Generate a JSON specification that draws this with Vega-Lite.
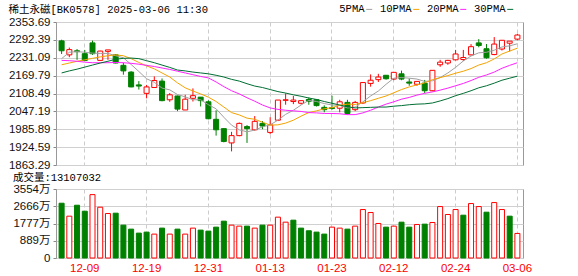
{
  "$schema": "https://vega.github.io/schema/vega-lite/v6.json",
  "padding": {"left": 7, "top": 4, "right": 40, "bottom": 2},
  "background": "white",
  "spacing": 1,
  "config": {
    "font": "Liberation Sans",
    "view": {"stroke": "#999999", "strokeWidth": 1},
    "line": {"strokeWidth": 1},
    "axis": {"labelFont": "Liberation Sans, Noto Sans CJK SC", "labelFontSize": 11.5, "labelColor": "#111111", "titleFontSize": 11, "labelOverlap": false}
  },
  "data": {"values": [
    {"d":"2024-12-04","o":2289,"h":2293,"l":2244,"c":2255,"v":2821,"up":false,"5PMA":2228,"10PMA":2207,"20PMA":2222,"30PMA":2179},
    {"d":"2024-12-05","o":2241,"h":2266,"l":2233,"c":2259,"v":2154,"up":true,"5PMA":2250,"10PMA":2213,"20PMA":2221,"30PMA":2186},
    {"d":"2024-12-06","o":2255,"h":2261,"l":2224,"c":2252,"v":2718,"up":false,"5PMA":2252,"10PMA":2219,"20PMA":2219,"30PMA":2192},
    {"d":"2024-12-09","o":2245,"h":2258,"l":2219,"c":2222,"v":2410,"up":false,"5PMA":2250,"10PMA":2224,"20PMA":2216,"30PMA":2199},
    {"d":"2024-12-10","o":2282,"h":2290,"l":2241,"c":2245,"v":3265,"up":true,"5PMA":2247,"10PMA":2229,"20PMA":2214,"30PMA":2206},
    {"d":"2024-12-11","o":2222,"h":2255,"l":2221,"c":2254,"v":2616,"up":true,"5PMA":2246,"10PMA":2234,"20PMA":2214,"30PMA":2213},
    {"d":"2024-12-12","o":2253,"h":2258,"l":2224,"c":2258,"v":2291,"up":true,"5PMA":2246,"10PMA":2238,"20PMA":2214,"30PMA":2219},
    {"d":"2024-12-13","o":2241,"h":2244,"l":2212,"c":2213,"v":2308,"up":false,"5PMA":2238,"10PMA":2241,"20PMA":2215,"30PMA":2226},
    {"d":"2024-12-16","o":2205,"h":2214,"l":2173,"c":2186,"v":1692,"up":false,"5PMA":2231,"10PMA":2238,"20PMA":2214,"30PMA":2229},
    {"d":"2024-12-17","o":2182,"h":2185,"l":2130,"c":2131,"v":1487,"up":false,"5PMA":2208,"10PMA":2228,"20PMA":2212,"30PMA":2230},
    {"d":"2024-12-18","o":2138,"h":2151,"l":2122,"c":2134,"v":1282,"up":false,"5PMA":2184,"10PMA":2215,"20PMA":2209,"30PMA":2228},
    {"d":"2024-12-19","o":2109,"h":2138,"l":2092,"c":2131,"v":1333,"up":false,"5PMA":2159,"10PMA":2203,"20PMA":2205,"30PMA":2221},
    {"d":"2024-12-20","o":2129,"h":2167,"l":2129,"c":2153,"v":1231,"up":true,"5PMA":2147,"10PMA":2193,"20PMA":2201,"30PMA":2214},
    {"d":"2024-12-23","o":2151,"h":2160,"l":2082,"c":2084,"v":1539,"up":false,"5PMA":2127,"10PMA":2179,"20PMA":2196,"30PMA":2206},
    {"d":"2024-12-24","o":2087,"h":2110,"l":2080,"c":2104,"v":1231,"up":true,"5PMA":2121,"10PMA":2165,"20PMA":2191,"30PMA":2198},
    {"d":"2024-12-25","o":2100,"h":2101,"l":2048,"c":2055,"v":1487,"up":false,"5PMA":2105,"10PMA":2145,"20PMA":2185,"30PMA":2189},
    {"d":"2024-12-26","o":2052,"h":2104,"l":2052,"c":2089,"v":1231,"up":true,"5PMA":2097,"10PMA":2128,"20PMA":2179,"30PMA":2186},
    {"d":"2024-12-27","o":2092,"h":2126,"l":2081,"c":2101,"v":1539,"up":true,"5PMA":2087,"10PMA":2117,"20PMA":2173,"30PMA":2182},
    {"d":"2024-12-30","o":2096,"h":2096,"l":2064,"c":2084,"v":1436,"up":false,"5PMA":2087,"10PMA":2107,"20PMA":2167,"30PMA":2179},
    {"d":"2024-12-31","o":2080,"h":2085,"l":2020,"c":2022,"v":1385,"up":false,"5PMA":2070,"10PMA":2096,"20PMA":2162,"30PMA":2176},
    {"d":"2025-01-02","o":2020,"h":2051,"l":1964,"c":1984,"v":1590,"up":false,"5PMA":2056,"10PMA":2081,"20PMA":2148,"30PMA":2171},
    {"d":"2025-01-03","o":1988,"h":1988,"l":1941,"c":1944,"v":1897,"up":false,"5PMA":2027,"10PMA":2062,"20PMA":2132,"30PMA":2165},
    {"d":"2025-01-06","o":1939,"h":1977,"l":1910,"c":1964,"v":1692,"up":true,"5PMA":2000,"10PMA":2043,"20PMA":2118,"30PMA":2157},
    {"d":"2025-01-07","o":1964,"h":2009,"l":1962,"c":2006,"v":1641,"up":true,"5PMA":1984,"10PMA":2035,"20PMA":2107,"30PMA":2151},
    {"d":"2025-01-08","o":1995,"h":2000,"l":1939,"c":1988,"v":1641,"up":false,"5PMA":1977,"10PMA":2024,"20PMA":2094,"30PMA":2142},
    {"d":"2025-01-09","o":1984,"h":2031,"l":1981,"c":2013,"v":1539,"up":true,"5PMA":1983,"10PMA":2020,"20PMA":2082,"30PMA":2134},
    {"d":"2025-01-10","o":2006,"h":2014,"l":1986,"c":1997,"v":1692,"up":false,"5PMA":1994,"10PMA":2010,"20PMA":2069,"30PMA":2129},
    {"d":"2025-01-13","o":1975,"h":2027,"l":1969,"c":2001,"v":1692,"up":true,"5PMA":2001,"10PMA":2000,"20PMA":2059,"30PMA":2122},
    {"d":"2025-01-14","o":2017,"h":2086,"l":2014,"c":2086,"v":2103,"up":true,"5PMA":2017,"10PMA":2001,"20PMA":2054,"30PMA":2115},
    {"d":"2025-01-15","o":2085,"h":2109,"l":2070,"c":2087,"v":1846,"up":true,"5PMA":2037,"10PMA":2007,"20PMA":2051,"30PMA":2110},
    {"d":"2025-01-16","o":2081,"h":2100,"l":2072,"c":2086,"v":1949,"up":false,"5PMA":2051,"10PMA":2017,"20PMA":2049,"30PMA":2104},
    {"d":"2025-01-17","o":2075,"h":2084,"l":2071,"c":2084,"v":1539,"up":false,"5PMA":2069,"10PMA":2031,"20PMA":2047,"30PMA":2099},
    {"d":"2025-01-20","o":2088,"h":2095,"l":2070,"c":2082,"v":1402,"up":false,"5PMA":2085,"10PMA":2043,"20PMA":2043,"30PMA":2093},
    {"d":"2025-01-21","o":2087,"h":2089,"l":2064,"c":2067,"v":1333,"up":false,"5PMA":2081,"10PMA":2049,"20PMA":2042,"30PMA":2088},
    {"d":"2025-01-22","o":2061,"h":2068,"l":2044,"c":2053,"v":1231,"up":false,"5PMA":2074,"10PMA":2056,"20PMA":2040,"30PMA":2081},
    {"d":"2025-01-23","o":2060,"h":2101,"l":2053,"c":2057,"v":1590,"up":true,"5PMA":2069,"10PMA":2060,"20PMA":2040,"30PMA":2075},
    {"d":"2025-01-24","o":2058,"h":2087,"l":2044,"c":2080,"v":1539,"up":true,"5PMA":2068,"10PMA":2068,"20PMA":2039,"30PMA":2069},
    {"d":"2025-01-27","o":2078,"h":2087,"l":2036,"c":2040,"v":1487,"up":false,"5PMA":2059,"10PMA":2072,"20PMA":2036,"30PMA":2063},
    {"d":"2025-02-05","o":2053,"h":2083,"l":2048,"c":2078,"v":1641,"up":true,"5PMA":2062,"10PMA":2071,"20PMA":2036,"30PMA":2059},
    {"d":"2025-02-06","o":2076,"h":2146,"l":2073,"c":2146,"v":2496,"up":true,"5PMA":2080,"10PMA":2077,"20PMA":2042,"30PMA":2060},
    {"d":"2025-02-07","o":2143,"h":2174,"l":2132,"c":2154,"v":2342,"up":true,"5PMA":2100,"10PMA":2084,"20PMA":2051,"30PMA":2061},
    {"d":"2025-02-10","o":2156,"h":2176,"l":2148,"c":2165,"v":1778,"up":true,"5PMA":2117,"10PMA":2092,"20PMA":2062,"30PMA":2062},
    {"d":"2025-02-11","o":2171,"h":2171,"l":2156,"c":2159,"v":1590,"up":false,"5PMA":2140,"10PMA":2100,"20PMA":2072,"30PMA":2062},
    {"d":"2025-02-12","o":2158,"h":2181,"l":2154,"c":2181,"v":1641,"up":true,"5PMA":2161,"10PMA":2111,"20PMA":2080,"30PMA":2065},
    {"d":"2025-02-13","o":2176,"h":2187,"l":2154,"c":2158,"v":1846,"up":false,"5PMA":2163,"10PMA":2122,"20PMA":2089,"30PMA":2067},
    {"d":"2025-02-14","o":2148,"h":2160,"l":2135,"c":2144,"v":1590,"up":false,"5PMA":2161,"10PMA":2131,"20PMA":2095,"30PMA":2070},
    {"d":"2025-02-17","o":2140,"h":2150,"l":2135,"c":2150,"v":1727,"up":true,"5PMA":2158,"10PMA":2138,"20PMA":2103,"30PMA":2072},
    {"d":"2025-02-18","o":2144,"h":2155,"l":2110,"c":2118,"v":1744,"up":false,"5PMA":2150,"10PMA":2145,"20PMA":2109,"30PMA":2073},
    {"d":"2025-02-19","o":2118,"h":2188,"l":2116,"c":2188,"v":1829,"up":true,"5PMA":2152,"10PMA":2156,"20PMA":2114,"30PMA":2076},
    {"d":"2025-02-20","o":2207,"h":2224,"l":2200,"c":2216,"v":2650,"up":true,"5PMA":2163,"10PMA":2163,"20PMA":2120,"30PMA":2083},
    {"d":"2025-02-21","o":2213,"h":2224,"l":2207,"c":2222,"v":2240,"up":true,"5PMA":2179,"10PMA":2170,"20PMA":2127,"30PMA":2091},
    {"d":"2025-02-24","o":2224,"h":2258,"l":2222,"c":2244,"v":2496,"up":true,"5PMA":2198,"10PMA":2178,"20PMA":2135,"30PMA":2101},
    {"d":"2025-02-25","o":2225,"h":2258,"l":2220,"c":2232,"v":2205,"up":false,"5PMA":2220,"10PMA":2185,"20PMA":2143,"30PMA":2109},
    {"d":"2025-02-26","o":2241,"h":2278,"l":2239,"c":2269,"v":2804,"up":true,"5PMA":2237,"10PMA":2194,"20PMA":2153,"30PMA":2118},
    {"d":"2025-02-27","o":2282,"h":2295,"l":2267,"c":2273,"v":2650,"up":true,"5PMA":2248,"10PMA":2206,"20PMA":2164,"30PMA":2128},
    {"d":"2025-02-28","o":2262,"h":2278,"l":2228,"c":2231,"v":2359,"up":false,"5PMA":2250,"10PMA":2214,"20PMA":2172,"30PMA":2135},
    {"d":"2025-03-03","o":2242,"h":2302,"l":2240,"c":2278,"v":2855,"up":true,"5PMA":2257,"10PMA":2227,"20PMA":2182,"30PMA":2144},
    {"d":"2025-03-04","o":2261,"h":2291,"l":2256,"c":2291,"v":2496,"up":true,"5PMA":2268,"10PMA":2244,"20PMA":2195,"30PMA":2154},
    {"d":"2025-03-05","o":2281,"h":2288,"l":2253,"c":2288,"v":2154,"up":false,"5PMA":2272,"10PMA":2254,"20PMA":2205,"30PMA":2161},
    {"d":"2025-03-06","o":2295,"h":2313,"l":2291,"c":2309,"v":1265,"up":true,"5PMA":2279,"10PMA":2264,"20PMA":2214,"30PMA":2168}
  ]},
  "vconcat": [
    {
      "width": 467,
      "height": 143,
      "title": {"text": "稀土永磁[BK0578] 2025-03-06 11:30", "anchor": "start", "font": "Liberation Mono, Noto Sans CJK SC", "fontSize": 10.5, "fontWeight": "normal", "color": "#000000", "offset": 1},
      "layer": [
        {
          "mark": {"type": "rule", "strokeWidth": 1},
          "encoding": {
            "x": {"field": "d", "type": "ordinal", "scale": {"paddingInner": 0.35, "paddingOuter": 0.4},
                  "axis": {"title": null, "labels": false, "ticks": false, "domain": false, "grid": true, "gridDash": [4, 3], "gridColor": "#cccccc", "bandPosition": 0.5,
                           "values": ["2024-12-09","2024-12-19","2024-12-31","2025-01-13","2025-01-23","2025-02-12","2025-02-24","2025-03-06"]}},
            "y": {"field": "l", "type": "quantitative", "scale": {"domain": [1863.29, 2353.69], "nice": false, "zero": false},
                  "axis": {"title": null, "values": [1863.29, 1924.59, 1985.89, 2047.19, 2108.49, 2169.79, 2231.09, 2292.39, 2353.69], "tickCount": 9, "format": ".2f", "labelOverlap": false, "labelFlush": false, "grid": true, "gridColor": "#d0d0d0", "domain": false, "tickSize": 3, "tickColor": "#888888", "labelPadding": 3}},
            "y2": {"field": "h"},
            "color": {"condition": {"test": "datum.c >= datum.o", "value": "#ff0000"}, "value": "#008000"}
          }
        },
        {
          "mark": {"type": "bar", "strokeWidth": 1},
          "encoding": {
            "x": {"field": "d", "type": "ordinal"},
            "y": {"field": "o", "type": "quantitative"},
            "y2": {"field": "c"},
            "fill": {"condition": {"test": "datum.c >= datum.o", "value": "#ffffff"}, "value": "#008000"},
            "stroke": {"condition": {"test": "datum.c >= datum.o", "value": "#ff0000"}, "value": "#008000"}
          }
        },
        {
          "transform": [{"fold": ["5PMA", "10PMA", "20PMA", "30PMA"], "as": ["ma", "val"]}],
          "mark": {"type": "line"},
          "encoding": {
            "x": {"field": "d", "type": "ordinal"},
            "y": {"field": "val", "type": "quantitative"},
            "color": {"field": "ma", "type": "nominal",
                      "scale": {"domain": ["5PMA", "10PMA", "20PMA", "30PMA"], "range": ["#a0a0a0", "#f5a300", "#ff22ff", "#006e33"]},
                      "legend": {"title": null, "orient": "none", "legendX": 308, "legendY": -18, "direction": "horizontal",
                                 "symbolType": "stroke", "symbolSize": 36, "symbolStrokeWidth": 4,
                                 "labelFont": "Liberation Mono", "labelFontSize": 10.5, "labelColor": "#000000",
                                 "labelAlign": "right", "labelOffset": -10, "columnPadding": 4}}
          }
        }
      ]
    },
    {
      "width": 467,
      "height": 69,
      "title": {"text": "成交量:13107032", "anchor": "start", "font": "Liberation Mono, Noto Sans CJK SC", "fontSize": 10.5, "fontWeight": "normal", "color": "#000000", "offset": 0},
      "mark": {"type": "bar", "strokeWidth": 1},
      "encoding": {
        "x": {"field": "d", "type": "ordinal", "scale": {"paddingInner": 0.35, "paddingOuter": 0.4},
              "axis": {"title": null, "ticks": false, "domain": false, "grid": true, "gridDash": [4, 3], "gridColor": "#cccccc", "bandPosition": 0.5,
                       "labelAngle": 0, "labelColor": "#ff0000", "labelPadding": 4, "labelExpr": "slice(datum.value, 5)",
                       "values": ["2024-12-09","2024-12-19","2024-12-31","2025-01-13","2025-01-23","2025-02-12","2025-02-24","2025-03-06"]}},
        "y": {"field": "v", "type": "quantitative", "scale": {"domain": [0, 3554], "nice": false},
              "axis": {"title": null, "values": [0, 889, 1777, 2666, 3554], "tickCount": 5, "labelExpr": "datum.value == 0 ? '0' : datum.value + '万'", "labelOverlap": false, "grid": true, "gridColor": "#d0d0d0", "domain": false, "tickSize": 3, "tickColor": "#888888", "labelPadding": 3}},
        "fill": {"condition": {"test": "datum.up", "value": "#ffffff"}, "value": "#008000"},
        "stroke": {"condition": {"test": "datum.up", "value": "#ff0000"}, "value": "#008000"}
      }
    }
  ]
}
